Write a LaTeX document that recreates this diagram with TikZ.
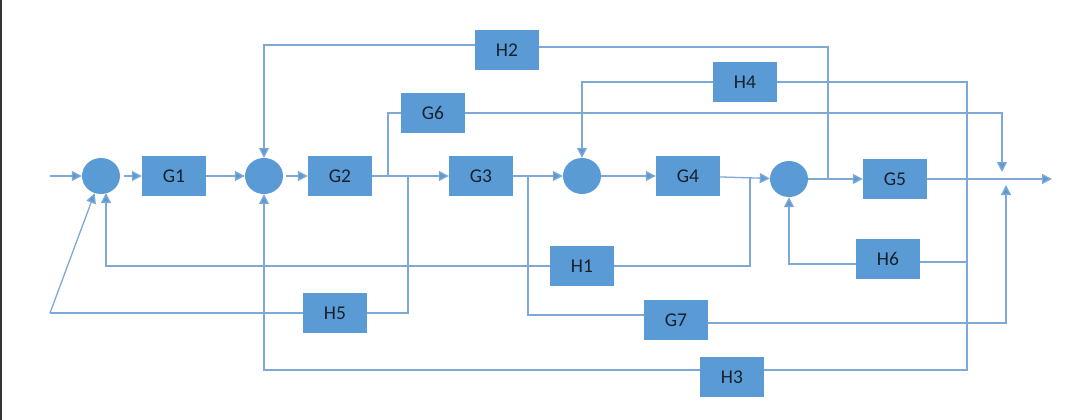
\documentclass[tikz,border=0pt]{standalone}
\usepackage{fontspec}
\setmainfont{Carlito}
\usetikzlibrary{arrows.meta,shapes.geometric}
\definecolor{boxblue}{HTML}{5B9BD5}
\definecolor{lineblue}{HTML}{7EA9D6}
\definecolor{txt}{HTML}{16212C}
\begin{document}
\begin{tikzpicture}[x=1pt,y=-1pt,
  blk/.style={rectangle,fill=boxblue,minimum width=64pt,minimum height=40pt,inner sep=0pt,text=txt,font=\fontsize{19.5}{21}\selectfont},
  sumj/.style={ellipse,fill=boxblue,minimum width=38pt,minimum height=36pt,inner sep=0pt},
  wire/.style={draw=lineblue,line width=1.3pt},
  sig/.style={wire,-{Triangle[length=10pt,width=10pt,fill=boxblue]}},
]
\useasboundingbox (0,0) rectangle (1080,420);
\fill[white] (0,0) rectangle (1080,420);
\draw[black!80,line width=2pt] (1,0) -- (1,420);

% summing junctions
\node[sumj] (s1) at (101,176) {};
\node[sumj] (s2) at (264,176) {};
\node[sumj] (s4) at (582,176) {};
\node[sumj] (s3) at (789,179) {};

% blocks
\node[blk] (G1) at (174,176) {G1};
\node[blk] (G2) at (340,176) {G2};
\node[blk] (G3) at (481,176) {G3};
\node[blk] (G4) at (688,176) {G4};
\node[blk] (G5) at (895,179) {G5};
\node[blk] (G6) at (433,113) {G6};
\node[blk] (G7) at (676,320) {G7};
\node[blk] (H1) at (582,266) {H1};
\node[blk] (H2) at (507,50) {H2};
\node[blk] (H3) at (732,377) {H3};
\node[blk] (H4) at (745,82) {H4};
\node[blk] (H5) at (335,313) {H5};
\node[blk] (H6) at (888,259) {H6};

% free ends and pick-off points
\coordinate (inp) at (50,176);
\coordinate (outp) at (1052,179);
\coordinate (outtop) at (1002,172);
\coordinate (outbot) at (1006,185);
\coordinate (pA) at (388,176);
\coordinate (pB) at (408,176);
\coordinate (pC) at (528,176);
\coordinate (pD) at (750,177);
\coordinate (pE) at (828,179);
\coordinate (pF) at (967,179);
\coordinate (h5c) at (50,313);
\coordinate (s1b) at (106,193);

% forward path
\draw[sig] (inp) -- (s1);
\draw[sig,shorten <=4pt] (s1) -- (G1);
\draw[sig] (G1) -- (s2);
\draw[sig,shorten <=3pt] (s2) -- (G2);
\draw[sig] (G2) -- (G3);
\draw[sig] (G3) -- (s4);
\draw[sig] (s4) -- (G4);
\draw[sig] (G4) -- (s3);
\draw[sig] (s3) -- (G5);
\draw[sig] (G5) -- (outp);

% parallel paths
\draw[wire] (pA) |- (G6.west);
\draw[sig] (G6.east) -| (outtop);
\draw[wire] (pC) |- ([yshift=5pt]G7.west);
\draw[sig] ([yshift=-3pt]G7.east) -| (outbot);

% feedback paths
\draw[wire] (pB) |- (H5.east);
\draw[wire] (H5.west) -- (h5c);
\draw[sig] (h5c) -- (s1);
\draw[wire] (pD) |- (H1.east);
\draw[sig] (H1.west) -| (s1b);
\draw[wire] (pE) |- ([yshift=3pt]H2.east);
\draw[sig] ([yshift=5pt]H2.west) -| (s2.north);
\draw[wire] (pF) |- (H4.east);
\draw[sig] (H4.west) -| (s4.north);
\draw[wire] (pF) |- ([yshift=-3pt]H6.east);
\draw[sig] ([yshift=-5pt]H6.west) -| (s3.south);
\draw[wire] (pF) |- ([yshift=7pt]H3.east);
\draw[sig] ([yshift=7pt]H3.west) -| (s2.south);
\end{tikzpicture}
\end{document}
